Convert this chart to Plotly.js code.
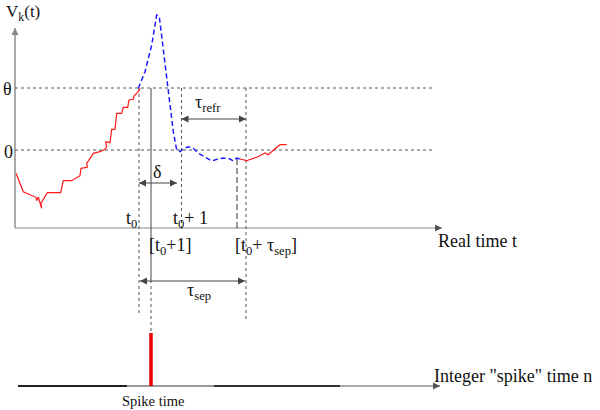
<!DOCTYPE html>
<html>
<head>
<meta charset="utf-8">
<script src="https://cdn.plot.ly/plotly-3.0.1.min.js"></script>
<style>html,body{margin:0;padding:0;background:#fff;}#chart{width:600px;height:410px;}</style>
</head>
<body>
<div id="chart"></div>
<script>
// Diagram coordinates (x: horizontal position, y: vertical position, downward)
// Sub-threshold membrane potential, before the spike (red)
const redBeforeX = [16, 23.3, 36, 36.7, 38.3, 41.7, 41, 45, 47.3, 60.7, 63.3, 71.7, 80, 81, 87.3, 86.7, 93.3, 100, 105, 106.7, 105.7, 110, 111, 111.7, 115, 115.7, 116.7, 121.7, 123.3, 127.7, 129, 133.3, 134, 138.3, 140];
const redBeforeY = [173.3, 191.7, 197.3, 200.7, 197.3, 208.3, 203.3, 196.7, 192.7, 192.7, 180.7, 180.7, 175.7, 168.3, 167.3, 163.3, 153.3, 151.7, 149.3, 146.7, 141.7, 142.7, 136, 129.3, 129.3, 119.3, 113.3, 113.3, 107.3, 107.3, 100, 99.3, 96, 91.7, 88.3];
// Spike and refractory part (blue dashed)
const blueX = [138.3, 145, 151.7, 156.7, 159.3, 163.3, 168.3, 173.3, 176.7, 180, 183.3, 188.3, 193.3, 198, 205, 211.7, 218, 223, 230, 233, 236.7, 240];
const blueY = [88.3, 71.7, 45, 15, 16.7, 48.3, 88.3, 131.7, 150, 151.7, 149, 146.7, 148.3, 153, 157, 161, 159, 158, 159, 161, 158, 159];
// After separation time (red)
const redAfterX = [240, 246.7, 258, 265, 268, 280, 286.7];
const redAfterY = [159, 160.7, 156.7, 153, 154.7, 144.7, 144.7];

// Key positions
const axisLeft = 15, axisBottom = 228, axisTop = 28, axisRight = 442;
const thetaLevel = 88, zeroLevel = 150, levelRight = 435;
const t0 = 139, spikeX = 151, t0plus1 = 181.5, tSepMark = 237, tRefrEnd = 246;
const lowerAxisY = 386, lowerAxisEnd = 440, spikeTop = 333;
const deltaY = 183, deltaEnd = 177, refrY = 119, sepY = 281, sepStart = 140, sepEnd = 245;
const lowerSegX = [[18, 127], [127, 214], [214, 340]];
const lowerSegColor = ['#222222', '#9a9a9a', '#333333'];

const serif = 'Liberation Serif, Times New Roman, serif';
const traces = [];
function line(xs, ys, color, width, dash) {
  traces.push({x: xs, y: ys, mode: 'lines', type: 'scatter', hoverinfo: 'skip',
    line: {color: color, width: width, dash: dash || 'solid'}});
}
function heads(xs, ys, symbols, color) {
  traces.push({x: xs, y: ys, mode: 'markers', type: 'scatter', hoverinfo: 'skip',
    marker: {symbol: symbols, size: 7, color: color, line: {width: 0}}});
}
// axes
line([axisLeft, axisLeft], [axisBottom, axisTop], '#aaaaaa', 2);
line([axisLeft, axisRight], [axisBottom, axisBottom], '#888888', 1);
// level lines
line([axisLeft, levelRight], [thetaLevel, thetaLevel], '#555555', 1, '3px,3px');
line([axisLeft, levelRight], [zeroLevel, zeroLevel], '#555555', 1, '3px,3px');
// vertical markers
line([t0, t0], [thetaLevel, 316], '#555555', 1, '3px,3px');
line([spikeX, spikeX], [thetaLevel, 280], '#444444', 1);
line([spikeX, spikeX], [280, spikeTop], '#555555', 1, '3px,3px');
line([t0plus1, t0plus1], [thetaLevel, axisBottom + 4], '#555555', 1, '3px,3px');
line([tRefrEnd, tRefrEnd], [thetaLevel, 320], '#555555', 1, '3px,3px');
line([tSepMark, tSepMark], [159, axisBottom], '#333333', 1, '6px,3px');
// curves
line(redBeforeX, redBeforeY, '#ff1a1a', 1.2);
line(blueX, blueY, '#1a1aff', 1.5, '5px,3px');
line(redAfterX, redAfterY, '#ff1a1a', 1.2);
// lower axis
for (let i = 0; i < lowerSegX.length; i++) {
  line(lowerSegX[i], [lowerAxisY, lowerAxisY], lowerSegColor[i], 2);
}
line([340, lowerAxisEnd], [lowerAxisY, lowerAxisY], '#555555', 1);
// spike bar
line([spikeX, spikeX], [spikeTop, lowerAxisY], '#e80000', 3.5);
// measurement arrows
line([t0, deltaEnd], [deltaY, deltaY], '#444444', 1);
line([t0plus1, tRefrEnd], [refrY, refrY], '#444444', 1);
line([sepStart, sepEnd], [sepY, sepY], '#444444', 1);
heads([axisLeft], [axisTop], ['arrow-up'], '#888888');
heads([axisRight, lowerAxisEnd], [axisBottom, lowerAxisY], ['arrow-right', 'arrow-right'], '#555555');
heads([t0, deltaEnd, t0plus1, tRefrEnd, sepStart, sepEnd], [deltaY, deltaY, refrY, refrY, sepY, sepY],
  ['arrow-left', 'arrow-right', 'arrow-left', 'arrow-right', 'arrow-left', 'arrow-right'], '#444444');

function label(text, x, y, size, anchor) {
  return {x: x, y: y, xref: 'x', yref: 'y', text: text, showarrow: false,
    xanchor: anchor || 'center', yanchor: 'middle', font: {family: serif, size: size, color: '#111111'}};
}
const annotations = [
  label('V<sub>k</sub>(t)', 4, 13, 17, 'left'),
  label('θ', 1, 89, 18, 'left'),
  label('0', 2, 152, 18, 'left'),
  label('δ', 157, 172, 18),
  label('τ<sub>refr</sub>', 208, 103, 18),
  label('t<sub>0</sub>', 131, 219, 18),
  label('t<sub>0</sub>+ 1', 190, 219, 18),
  label('[t<sub>0</sub>+1]', 170, 246, 18),
  label('[t<sub>0</sub>+ τ<sub>sep</sub>]', 266, 246, 18),
  label('τ<sub>sep</sub>', 199, 291, 18),
  label('Real time t', 436, 241, 18, 'left'),
  label('Integer "spike" time n', 432, 376, 18, 'left'),
  label('Spike time', 153, 401, 14.5)
];

const layout = {
  width: 600, height: 410, margin: {l: 0, r: 0, t: 0, b: 0},
  font: {family: serif, size: 18, color: '#111111'},
  paper_bgcolor: '#ffffff', plot_bgcolor: '#ffffff', showlegend: false, hovermode: false,
  xaxis: {range: [0, 600], visible: false, fixedrange: true},
  yaxis: {range: [410, 0], visible: false, fixedrange: true},
  annotations: annotations
};
Plotly.newPlot('chart', traces, layout, {displayModeBar: false, staticPlot: true});
</script>
</body>
</html>
